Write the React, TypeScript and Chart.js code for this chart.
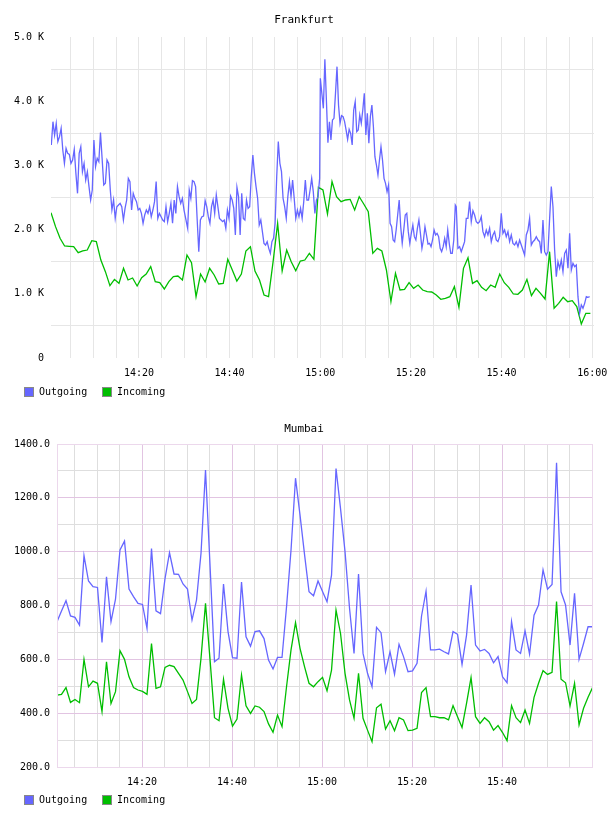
import React, { useEffect, useRef } from "react";
import { Chart, registerables } from "chart.js";

Chart.register(...registerables);

const FONT_FAMILY = "'DejaVu Sans Mono', monospace";
const BLUE = "rgb(102,102,255)";
const GREEN = "rgb(0,190,0)";

// ---------- Frankfurt (minutes after 14:00) ----------
const fraTitle = "Frankfurt";
const fraIncomingStart = 0.6; // one value per minute
const fraIncoming = [
  2264, 2046, 1864, 1745, 1739, 1734, 1641, 1667, 1682, 1828,
  1812, 1526, 1345, 1127, 1225, 1163, 1397, 1215, 1246, 1121,
  1251, 1308, 1423, 1189, 1173, 1075, 1189, 1267, 1277, 1215,
  1604, 1485, 955, 1308, 1184, 1397, 1293, 1153, 1163, 1537,
  1371, 1199, 1308, 1667, 1734, 1355, 1215, 981, 955, 1500,
  2098, 1355, 1682, 1500, 1360, 1511, 1526, 1630, 1537, 2658,
  2617, 2243, 2747, 2513, 2435, 2461, 2471, 2305, 2513, 2399,
  2279, 1630, 1708, 1667, 1371, 880, 1319, 1059, 1070, 1173,
  1085, 1137, 1059, 1033, 1028, 981, 914, 929, 955, 1111,
  789, 1397, 1563, 1163, 1205, 1101, 1049, 1137, 1101, 1308,
  1173, 1101, 997, 992, 1059, 1225, 971, 1085, 1007, 919,
  1656, 774, 851, 945, 877, 893, 800, 530, 696, 696,
];
// Outgoing is sampled more densely; four stretches, each with its time span
const fraOutgoingA = [
  3318, 3681, 3473, 3655, 3370, 3447, 3577, 3240, 3032, 3266,
  3188, 3172, 3032, 3084, 3250, 2876, 2565, 3188, 3292, 2902,
  3032, 2773, 2902, 2669, 2461, 2617, 3396, 2980, 3110, 3058,
  3510, 3110, 2695, 2721, 3084, 3032, 2617, 2305, 2461, 2175,
  2357, 2383, 2409, 2357, 2149, 2331, 2461, 2798, 2747, 2305,
  2565, 2487, 2435, 2305, 2331, 2253, 2098, 2227, 2305, 2253,
  2357, 2201, 2305, 2435, 2747, 2175, 2253, 2201, 2149, 2124,
  2357, 2124, 2253, 2409, 2098, 2461, 2253, 2669, 2513, 2409,
  2487, 2305, 2175, 2046,
];
const fraOutgoingB = [
  2020, 2617, 2487, 2762, 2747, 2669, 2149, 1656, 2149, 2201,
  2212, 2451, 2357, 2201, 2098, 2357, 2461, 2253, 2539, 2357,
  2175, 2149, 2124, 2149, 2020, 2305, 2175, 2523, 2461, 2331,
  1916, 2658, 2513, 1916, 2565, 2175, 2149, 2461, 2331, 2357,
  2824, 3162, 2876, 2669, 2487, 2072, 2149, 1968, 1786, 1760,
  1812, 1708, 1630, 1812, 1864, 2098, 2824, 3370, 3032, 2902,
  2487, 2357, 2175, 2513, 2747, 2513, 2773, 2487, 2175, 2305,
  2201, 2331, 2175, 2435, 2773, 2461, 2461, 2617, 2798, 2591,
  2253, 2461, 2513, 2798,
];
const fraOutgoingC = [
  4356, 4122, 3889, 4652, 4019, 3354, 3681, 3396, 3707, 3733,
  4122, 4538, 3941, 3655, 3775, 3759, 3681, 3551, 3406, 3562,
  3499, 3318, 3863, 3993, 3525, 3551, 3785, 3655, 3863, 4122,
  3473, 3811, 3344, 3759, 3941, 3603, 3136, 3006, 2850, 3084,
  3292, 3084, 2798, 2721, 2591, 2695, 2098, 2046, 1838, 1812,
  1994, 2227, 2461, 2046, 1786, 1994, 2227, 2253, 1968, 1786,
  1942, 2072, 1890, 1838, 2020, 2149, 1942, 1708, 1838, 2046,
  1916, 1776, 1786, 1734, 1838, 1994, 1916, 1942, 1890, 1708,
  1656, 1734, 1864, 1734, 1994, 1786, 1630, 1630, 1838, 2383,
];
const fraOutgoingD = [
  2357, 1708, 1734, 1656, 1734, 1812, 2175, 2175, 2435, 2124,
  2295, 2227, 2124, 2098, 2124, 2201, 1968, 1890, 1994, 1916,
  2020, 1812, 1916, 1968, 1838, 1812, 1890, 2253, 1942, 1994,
  1890, 1968, 1812, 1916, 1786, 1760, 1812, 1734, 1838, 1760,
  1682, 1604, 1916, 1994, 2175, 1760, 1812, 1838, 1890, 1838,
  1812, 1630, 2150, 1656, 1604, 1656, 2175, 2669, 2357, 1682,
  1267, 1500, 1397, 1526, 1345, 1630, 1682, 1397, 1942, 1371,
  1475, 1423, 1449, 955, 696, 826, 774, 851, 955, 945,
  955,
];
const fraOutgoingSpans = [
  [0.67, 30.67],
  [30.75, 59.87],
  [60.02, 89.8],
  [90.01, 119.44],
];

// ---------- Mumbai (minutes after 14:00) ----------
const mumTitle = "Mumbai";
const mumStart = 1.1; // one value per minute
const mumOutgoing = [
  740, 780, 818, 761, 756, 727, 985, 891, 870, 867,
  663, 907, 740, 824, 1006, 1039, 861, 833, 808, 804,
  715, 1012, 780, 770, 900, 996, 917, 916, 880, 861,
  746, 820, 994, 1303, 950, 591, 604, 880, 703, 606,
  604, 887, 684, 649, 703, 706, 677, 597, 564, 607,
  607, 795, 1006, 1273, 1136, 990, 851, 836, 891, 852,
  814, 913, 1309, 1160, 1000, 790, 622, 917, 622, 548,
  498, 719, 699, 554, 628, 545, 656, 610, 554, 557,
  585, 761, 853, 635, 635, 638, 628, 620, 703, 693,
  581, 690, 876, 653, 631, 637, 622, 587, 610, 535,
  513, 740, 635, 622, 706, 620, 764, 802, 932, 861,
  878, 1330, 851, 802, 653, 845, 600, 659, 721, 721,
];
const mumIncoming = [
  467, 470, 495, 440, 451, 439, 600, 498, 519, 511,
  406, 591, 436, 480, 632, 600, 535, 495, 486, 481,
  470, 659, 492, 498, 570, 578, 573, 548, 523, 480,
  436, 451, 604, 808, 600, 383, 372, 526, 418, 352,
  378, 542, 427, 399, 427, 422, 406, 360, 329, 393,
  350, 498, 635, 736, 641, 573, 511, 498, 517, 533,
  483, 560, 783, 696, 548, 449, 381, 548, 381, 337,
  294, 420, 433, 341, 372, 335, 383, 375, 335, 337,
  344, 477, 495, 387, 387, 383, 383, 375, 428, 387,
  347, 436, 532, 387, 362, 383, 368, 337, 354, 328,
  298, 428, 383, 365, 412, 362, 459, 511, 558, 544,
  552, 815, 526, 513, 427, 511, 356, 418, 459, 495,
];

const legendLabels = ["Outgoing", "Incoming"];

function perMinute(values: number[], start: number) {
  return values.map((v, i) => ({ x: start + i, y: v }));
}
function spread(values: number[], span: number[]) {
  const step = (span[1] - span[0]) / (values.length - 1);
  return values.map((v, i) => ({ x: span[0] + i * step, y: v }));
}
function fmtTime(m: number) {
  const h = 14 + Math.floor(m / 60);
  const mm = Math.round(m % 60);
  return `${h}:${mm < 10 ? "0" + mm : mm}`;
}

type Cfg = {
  top: number;
  height: number;
  area: { left: number; top: number; right: number; bottom: number };
  title: string;
  titleY: number;
  legendY: number;
  datasets: any[];
  xMin: number;
  xMax: number;
  xLabelMax: number;
  yMin: number;
  yMax: number;
  yStep: number;
  yLabel: (v: number) => string;
  xGrid: (v: number) => string;
  yGrid: (v: number) => string;
  frame?: string;
};

function PanelChart({ cfg }: { cfg: Cfg }) {
  const ref = useRef<HTMLCanvasElement>(null);
  useEffect(() => {
    if (!ref.current) return;
    const W = 608;
    const decor = {
      id: "decor",
      afterDraw(chart: any) {
        const ctx = chart.ctx;
        ctx.save();
        if (cfg.frame) {
          const a = chart.chartArea;
          ctx.strokeStyle = cfg.frame;
          ctx.lineWidth = 1;
          ctx.strokeRect(a.left + 0.5, a.top + 0.5, a.right - a.left - 1, a.bottom - a.top);
        }
        ctx.fillStyle = "#000";
        ctx.font = `11px ${FONT_FAMILY}`;
        ctx.textAlign = "center";
        ctx.textBaseline = "middle";
        ctx.fillText(cfg.title, W / 2, cfg.titleY);
        const colors = [BLUE, GREEN];
        const xs = [24, 102];
        ctx.font = `10px ${FONT_FAMILY}`;
        ctx.textAlign = "left";
        for (let i = 0; i < 2; i++) {
          ctx.fillStyle = colors[i];
          ctx.fillRect(xs[i], cfg.legendY - 5, 10, 10);
          ctx.strokeStyle = "#888";
          ctx.lineWidth = 1;
          ctx.strokeRect(xs[i] + 0.5, cfg.legendY - 4.5, 9, 9);
          ctx.fillStyle = "#000";
          ctx.fillText(legendLabels[i], xs[i] + 15, cfg.legendY + 0.5);
        }
        ctx.restore();
      },
    };
    const a = cfg.area;
    const chart = new Chart(ref.current, {
      type: "line",
      data: { datasets: cfg.datasets },
      options: {
        responsive: false,
        animation: false,
        devicePixelRatio: 1,
        layout: {
          padding: {
            left: 0,
            top: a.top,
            right: W - a.right,
            bottom: cfg.height - a.bottom - 40,
          },
        },
        plugins: {
          legend: { display: false },
          title: { display: false },
          tooltip: { enabled: false },
        },
        elements: { point: { radius: 0 }, line: { tension: 0 } },
        scales: {
          x: {
            type: "linear",
            min: cfg.xMin,
            max: cfg.xMax,
            afterBuildTicks: (s: any) => {
              const t = [];
              for (let m = 5; m <= cfg.xMax; m += 5) t.push({ value: m });
              s.ticks = t;
            },
            afterFit: (s: any) => {
              s.height = 40;
              s.paddingLeft = 0;
              s.paddingRight = 0;
            },
            ticks: {
              autoSkip: false,
              maxRotation: 0,
              minRotation: 0,
              padding: 9,
              color: "#000",
              font: { family: FONT_FAMILY, size: 10 },
              callback: (v: any) =>
                Math.round(v) % 20 === 0 && v <= cfg.xLabelMax ? fmtTime(v) : "",
            },
            grid: {
              color: (c: any) => cfg.xGrid(c.tick ? c.tick.value : 0),
              drawTicks: false,
              lineWidth: 1,
            },
            border: { display: false },
          },
          y: {
            type: "linear",
            min: cfg.yMin,
            max: cfg.yMax,
            afterBuildTicks: (s: any) => {
              const t = [];
              for (let v = cfg.yMin; v <= cfg.yMax; v += cfg.yStep) t.push({ value: v });
              s.ticks = t;
            },
            afterFit: (s: any) => {
              s.width = a.left;
              s.paddingTop = 0;
              s.paddingBottom = 0;
            },
            ticks: {
              autoSkip: false,
              padding: 7,
              color: "#000",
              font: { family: FONT_FAMILY, size: 10 },
              callback: (v: any) => cfg.yLabel(v),
            },
            grid: {
              color: (c: any) => cfg.yGrid(c.tick ? c.tick.value : 0),
              drawTicks: false,
              lineWidth: 1,
            },
            border: { display: false },
          },
        },
      } as any,
      plugins: [decor],
    });
    return () => chart.destroy();
  }, []);
  return (
    <canvas
      ref={ref}
      width={608}
      height={cfg.height}
      style={{ position: "absolute", left: 0, top: cfg.top, width: 608, height: cfg.height, display: "block" }}
    />
  );
}

const line = (label: string, color: string, data: any[]) => ({
  label,
  data,
  borderColor: color,
  backgroundColor: color,
  borderWidth: 1.3,
  pointRadius: 0,
  fill: false,
});

export default function App() {
  const fraOut = [
    ...spread(fraOutgoingA, fraOutgoingSpans[0]),
    ...spread(fraOutgoingB, fraOutgoingSpans[1]),
    ...spread(fraOutgoingC, fraOutgoingSpans[2]),
    ...spread(fraOutgoingD, fraOutgoingSpans[3]),
  ];
  const fra: Cfg = {
    top: 0,
    height: 400,
    area: { left: 51, top: 37, right: 594, bottom: 358 },
    title: fraTitle,
    titleY: 20,
    legendY: 392,
    datasets: [
      line(legendLabels[0], BLUE, fraOut),
      line(legendLabels[1], GREEN, perMinute(fraIncoming, fraIncomingStart)),
    ],
    xMin: 0.6,
    xMax: 120.4,
    xLabelMax: 120,
    yMin: 0,
    yMax: 5000,
    yStep: 500,
    yLabel: (v) => (v % 1000 !== 0 ? "" : v === 0 ? "0" : (v / 1000).toFixed(1) + " K"),
    xGrid: () => "#e6e6e6",
    yGrid: (v) => (v % 1000 === 500 ? "#e6e6e6" : "rgba(0,0,0,0)"),
  };
  const mum: Cfg = {
    top: 405,
    height: 411,
    area: { left: 57, top: 39, right: 593, bottom: 362 },
    title: mumTitle,
    titleY: 24,
    legendY: 395,
    datasets: [
      line(legendLabels[0], BLUE, perMinute(mumOutgoing, mumStart)),
      line(legendLabels[1], GREEN, perMinute(mumIncoming, mumStart)),
    ],
    xMin: 1.1,
    xMax: 120.2,
    xLabelMax: 100,
    yMin: 200,
    yMax: 1400,
    yStep: 100,
    yLabel: (v) => (v % 200 === 0 ? v.toFixed(1) : ""),
    xGrid: (v) => (Math.round(v) % 20 === 0 ? "#e2c4e2" : "#dedede"),
    yGrid: (v) => (v % 200 === 0 ? "#e2c4e2" : "#dedede"),
    frame: "#ecd8ec",
  };
  return (
    <div style={{ position: "absolute", left: 0, top: 0, width: 608, height: 816, background: "#fff" }}>
      <PanelChart cfg={fra} />
      <PanelChart cfg={mum} />
    </div>
  );
}
